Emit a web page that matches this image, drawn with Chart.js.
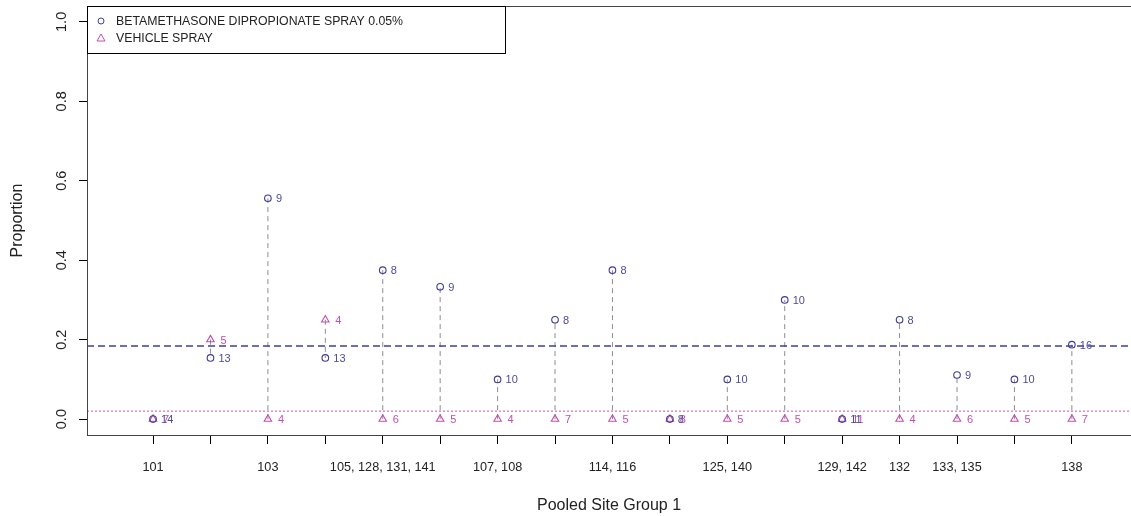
<!DOCTYPE html>
<html>
<head>
<meta charset="utf-8">
<script src="https://cdn.jsdelivr.net/npm/chart.js@4.4.1/dist/chart.umd.min.js"></script>
<style>
  html, body { margin: 0; padding: 0; background: #fff; }
  #wrap { width: 1131px; height: 516px; }
</style>
</head>
<body>
<div id="wrap"><canvas id="c"></canvas></div>
<script>
// site group positions and their printed labels (R drops the ones that would overlap)
var sitePos = [1, 2, 3, 4, 5, 6, 7, 8, 9, 10, 11, 12, 13, 14, 15, 16, 17];
var siteLabels = ['101', '', '103', '', '105, 128, 131, 141', '', '107, 108', '', '114, 116', '',
                  '125, 140', '', '129, 142', '132', '133, 135', '', '138'];

// proportions and n per group
var betaProp = [0, 0.154, 0.556, 0.154, 0.375, 0.333, 0.1, 0.25, 0.375, 0, 0.1, 0.3, 0, 0.25, 0.111, 0.1, 0.1875];
var betaN    = [14, 13, 9, 13, 8, 9, 10, 8, 8, 8, 10, 10, 11, 8, 9, 10, 16];
var vehProp  = [0, 0.2, 0, 0.25, 0, 0, 0, 0, 0, 0, 0, 0, 0, 0, 0, 0, 0];
var vehN     = [7, 5, 4, 4, 6, 5, 4, 7, 5, 8, 5, 5, 11, 4, 6, 5, 7];

// overall proportions (reference lines)
var betaOverall = 0.184;
var vehOverall = 0.02;

var yTicks = [0, 0.2, 0.4, 0.6, 0.8, 1.0];
var xMin = -0.15, xMax = 18.03;

var blue = '#3c3c96';
var blueText = '#4c4c9c';
var pink = '#c24fae';
var FONT = "'Liberation Sans', Arial, sans-serif";

var betaPts = sitePos.map(function (x, i) { return { x: x, y: betaProp[i] }; });
var vehPts = sitePos.map(function (x, i) { return { x: x, y: vehProp[i] }; });
var segPts = [];
sitePos.forEach(function (x, i) {
  segPts.push({ x: x, y: vehProp[i] }, { x: x, y: betaProp[i] }, { x: x, y: null });
});

var boxPlugin = {
  id: 'box',
  afterDraw: function (chart) {
    var ctx = chart.ctx, a = chart.chartArea;
    ctx.save();
    ctx.strokeStyle = '#444';
    ctx.lineWidth = 1;
    ctx.strokeRect(a.left + 0.5, a.top + 0.5, a.right - a.left + 2, a.bottom - a.top);
    // legend
    var lx = a.left, ly = a.top, lw = 418, lh = 47;
    ctx.fillStyle = '#fff';
    ctx.fillRect(lx, ly, lw, lh);
    ctx.strokeStyle = '#000';
    ctx.strokeRect(lx + 0.5, ly + 0.5, lw, lh);
    ctx.lineWidth = 1;
    ctx.strokeStyle = blue;
    ctx.beginPath();
    ctx.arc(lx + 14, ly + 15, 3, 0, Math.PI * 2);
    ctx.stroke();
    ctx.strokeStyle = pink;
    ctx.beginPath();
    ctx.moveTo(lx + 14, ly + 28);
    ctx.lineTo(lx + 18, ly + 35);
    ctx.lineTo(lx + 10, ly + 35);
    ctx.closePath();
    ctx.stroke();
    ctx.fillStyle = '#222';
    ctx.font = '12.3px ' + FONT;
    ctx.textBaseline = 'middle';
    ctx.textAlign = 'left';
    ctx.fillText('BETAMETHASONE DIPROPIONATE SPRAY 0.05%', lx + 29, ly + 16);
    ctx.fillText('VEHICLE SPRAY', lx + 29, ly + 33);
    ctx.restore();
  },
  afterDatasetsDraw: function (chart) {
    var ctx = chart.ctx;
    ctx.save();
    ctx.font = '11px ' + FONT;
    ctx.textBaseline = 'middle';
    ctx.textAlign = 'left';
    var mb = chart.getDatasetMeta(0), mv = chart.getDatasetMeta(1);
    mv.data.forEach(function (el, i) {
      ctx.fillStyle = pink;
      ctx.fillText(String(vehN[i]), el.x + 10, el.y + 1);
    });
    mb.data.forEach(function (el, i) {
      ctx.fillStyle = blueText;
      ctx.fillText(String(betaN[i]), el.x + 8, el.y + 1);
    });
    ctx.restore();
  }
};

new Chart(document.getElementById('c'), {
  type: 'scatter',
  data: {
    datasets: [
      {
        label: 'BETAMETHASONE DIPROPIONATE SPRAY 0.05%',
        data: betaPts,
        pointStyle: 'circle',
        pointRadius: 3.3,
        pointBorderWidth: 1.1,
        borderColor: blue,
        backgroundColor: 'rgba(0,0,0,0)',
        order: 0
      },
      {
        label: 'VEHICLE SPRAY',
        data: vehPts,
        pointStyle: 'triangle',
        pointRadius: 4.3,
        pointBorderWidth: 1.1,
        borderColor: pink,
        backgroundColor: 'rgba(0,0,0,0)',
        order: 1
      },
      {
        label: 'segments',
        data: segPts,
        showLine: true,
        spanGaps: false,
        pointRadius: 0,
        borderColor: '#8c8c8c',
        borderWidth: 1,
        borderDash: [5, 4],
        order: 5
      },
      {
        label: 'beta overall',
        data: [{ x: xMin, y: betaOverall }, { x: xMax, y: betaOverall }],
        showLine: true,
        pointRadius: 0,
        borderColor: '#3f3fa0',
        borderWidth: 1.3,
        borderDash: [7, 4],
        order: 4
      },
      {
        label: 'vehicle overall',
        data: [{ x: xMin, y: vehOverall }, { x: xMax, y: vehOverall }],
        showLine: true,
        pointRadius: 0,
        borderColor: '#d27ac4',
        borderWidth: 1.3,
        borderDash: [2, 2],
        order: 4
      }
    ]
  },
  options: {
    responsive: true,
    maintainAspectRatio: false,
    animation: false,
    layout: { autoPadding: false, padding: { top: 6, right: 0, left: 0, bottom: 0 } },
    plugins: { legend: { display: false }, tooltip: { enabled: false } },
    scales: {
      x: {
        type: 'linear',
        min: xMin,
        max: xMax,
        afterBuildTicks: function (s) { s.ticks = sitePos.map(function (v) { return { value: v }; }); },
        afterFit: function (s) { s.height = 81; s.paddingLeft = 0; s.paddingRight = 0; },
        grid: { drawOnChartArea: false, drawTicks: true, tickLength: 9, color: '#000' },
        border: { display: false },
        ticks: {
          autoSkip: false,
          maxRotation: 0,
          padding: 16,
          color: '#222',
          font: { family: FONT, size: 12.7 },
          callback: function (v) { return siteLabels[sitePos.indexOf(v)] || ''; }
        },
        title: {
          display: true,
          text: 'Pooled Site Group 1',
          color: '#222',
          font: { family: FONT, size: 16 },
          padding: { top: 0, bottom: 1 }
        }
      },
      y: {
        min: -0.04,
        max: 1.04,
        afterBuildTicks: function (s) { s.ticks = yTicks.map(function (v) { return { value: v }; }); },
        afterFit: function (s) { s.width = 87; s.paddingTop = 0; s.paddingBottom = 0; },
        grid: { drawOnChartArea: false, drawTicks: true, tickLength: 8, color: '#000' },
        border: { display: false },
        ticks: {
          minRotation: 90,
          maxRotation: 90,
          crossAlign: 'center',
          padding: 7,
          color: '#222',
          font: { family: FONT, size: 14.5 },
          callback: function (v) { return v.toFixed(1); }
        },
        title: {
          display: true,
          text: 'Proportion',
          color: '#222',
          font: { family: FONT, size: 16 },
          padding: { top: 8, bottom: 0 }
        }
      }
    }
  },
  plugins: [boxPlugin]
});
</script>
</body>
</html>
